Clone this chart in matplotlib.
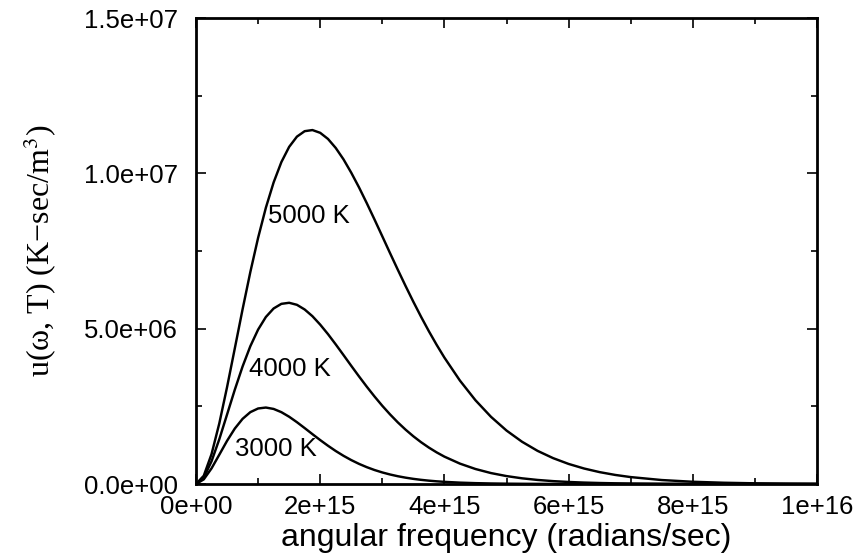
import matplotlib
matplotlib.use('Agg')
import matplotlib.pyplot as plt
from matplotlib.ticker import MultipleLocator

# angular frequency grid (rad/s): fine up to 4e15, coarser in the tails
omega = [0.0, 0.125e15, 0.25e15, 0.375e15, 0.5e15, 0.625e15, 0.75e15, 0.875e15,
         1.0e15, 1.125e15, 1.25e15, 1.375e15, 1.5e15, 1.625e15, 1.75e15, 1.875e15,
         2.0e15, 2.125e15, 2.25e15, 2.375e15, 2.5e15, 2.625e15, 2.75e15, 2.875e15,
         3.0e15, 3.125e15, 3.25e15, 3.375e15, 3.5e15, 3.625e15, 3.75e15, 3.875e15,
         4.0e15, 4.25e15, 4.5e15, 4.75e15, 5.0e15, 5.25e15, 5.5e15, 5.75e15,
         6.0e15, 6.25e15, 6.5e15, 6.75e15, 7.0e15, 7.5e15, 8.0e15, 8.5e15,
         9.0e15, 9.5e15, 1.0e16]

# energy density (K-sec/m^3), in units of 1e6
u_5000 = [0.0, 0.265, 0.960, 1.949, 3.117, 4.367, 5.623, 6.824,
          7.924, 8.893, 9.708, 10.363, 10.852, 11.181, 11.357, 11.393,
          11.304, 11.108, 10.817, 10.451, 10.020, 9.548, 9.040, 8.512,
          7.973, 7.430, 6.896, 6.373, 5.866, 5.380, 4.917, 4.480,
          4.069, 3.329, 2.696, 2.163, 1.721, 1.360, 1.067, 0.833,
          0.646, 0.498, 0.382, 0.292, 0.2225, 0.1275, 0.0721, 0.0403,
          0.0223, 0.0122, 0.0066]

u_4000 = [0.0, 0.207, 0.730, 1.440, 2.236, 3.036, 3.782, 4.436,
          4.970, 5.376, 5.650, 5.799, 5.833, 5.768, 5.617, 5.401,
          5.130, 4.825, 4.494, 4.151, 3.804, 3.463, 3.132, 2.816,
          2.517, 2.240, 1.983, 1.749, 1.536, 1.344, 1.172, 1.018,
          0.881, 0.656, 0.483, 0.352, 0.255, 0.183, 0.1307, 0.0926,
          0.0653, 0.0458, 0.0320, 0.0222, 0.0154, 0.0073, 0.0034, 0.0016,
          0.0007, 0.0003, 0.0001]

u_3000 = [0.0, 0.149, 0.502, 0.943, 1.389, 1.785, 2.097, 2.313,
          2.431, 2.461, 2.416, 2.312, 2.165, 1.990, 1.800, 1.605,
          1.414, 1.232, 1.062, 0.908, 0.770, 0.648, 0.542, 0.450,
          0.372, 0.306, 0.2504, 0.204, 0.1654, 0.1337, 0.1076, 0.0864,
          0.0692, 0.0439, 0.0275, 0.0171, 0.0106, 0.0065, 0.0039, 0.0024,
          0.0014, 0.0009, 0.0005, 0.0003, 0.0002, 0.0001, 0.0, 0.0,
          0.0, 0.0, 0.0]

labels = ['5000 K', '4000 K', '3000 K']
label_pos = [(1.16e15, 8.63e6), (0.85e15, 3.70e6), (0.63e15, 1.13e6)]

plt.rcParams['font.family'] = ['Liberation Sans', 'DejaVu Sans']
plt.rcParams['mathtext.fontset'] = 'stix'

fig = plt.figure(figsize=(8.54, 5.59), dpi=100)
ax = fig.add_axes([196/854, 1 - 484/559, (817 - 196)/854, (484 - 18)/559])

for u in (u_5000, u_4000, u_3000):
    ax.plot(omega, [v * 1e6 for v in u], c='black', lw=1.75)

for txt, (x, y) in zip(labels, label_pos):
    ax.text(x, y, txt, fontsize=18.5, ha='left', va='center')

ax.set_xlim(0, 1e16)
ax.set_ylim(0, 1.5e7)
ax.xaxis.set_minor_locator(MultipleLocator(1e15))
ax.yaxis.set_minor_locator(MultipleLocator(2.5e6))

ax.set_xticks([0, 2e15, 4e15, 6e15, 8e15, 1e16])
ax.set_xticklabels(['0e+00', '2e+15', '4e+15', '6e+15', '8e+15', '1e+16'])
ax.set_yticks([0, 5e6, 1e7, 1.5e7])
ax.set_yticklabels(['0.0e+00', '5.0e+06', '1.0e+07', '1.5e+07'])

ax.tick_params(which='both', direction='in', top=True, right=True, labelsize=18.5, width=1.2)
ax.tick_params(which='major', length=7)
ax.tick_params(which='minor', length=4)
ax.tick_params(axis='y', pad=13)
ax.tick_params(axis='x', pad=8)
for s in ax.spines.values():
    s.set_linewidth(2)

ax.set_xlabel('angular frequency (radians/sec)', fontsize=23, labelpad=3)
ax.set_ylabel('u(ω, T) (K−sec/m$^{3}$)', fontsize=23,
              family=['Liberation Serif', 'DejaVu Serif'], labelpad=18)

fig.savefig('out.png', dpi=100)
